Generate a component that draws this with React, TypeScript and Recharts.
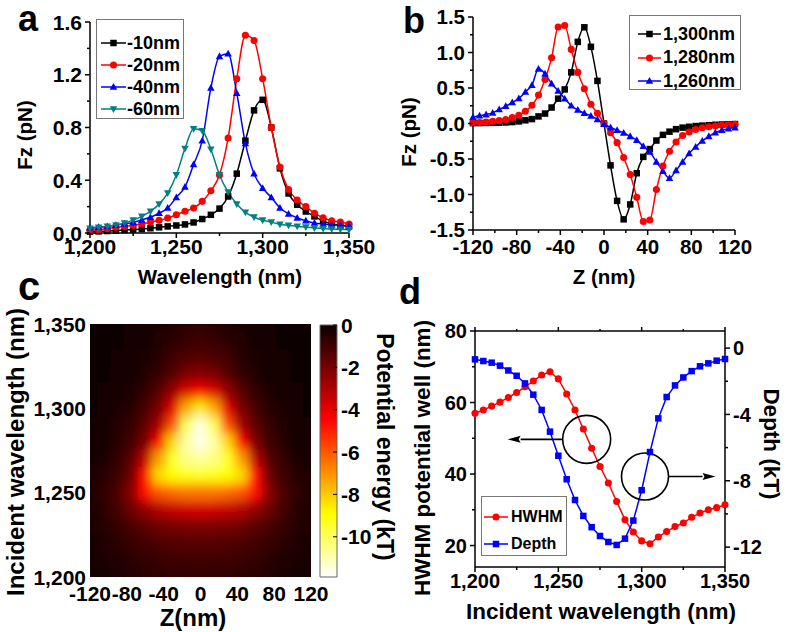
import React from 'react';
import {
  LineChart,
  Line,
  XAxis,
  YAxis,
  Legend,
  ScatterChart,
  Scatter,
  BarChart,
  Bar,
  ReferenceDot,
} from 'recharts';

const FONT = '"Liberation Sans", Arial, Helvetica, sans-serif';

// ---------- panel a: Fz vs wavelength at several z ----------
const wavelengths = [
  1200, 1205, 1210, 1215, 1220, 1225, 1230, 1235, 1240, 1245, 1250, 1255, 1260, 1265, 1270, 1275,
  1280, 1285, 1290, 1295, 1300, 1305, 1310, 1315, 1320, 1325, 1330, 1335, 1340, 1345, 1350,
];
const fzMinus10 = [
  0.01, 0.012, 0.015, 0.018, 0.022, 0.026, 0.03, 0.036, 0.043, 0.05, 0.057, 0.065, 0.08, 0.106, 0.138,
  0.185, 0.277, 0.45, 0.7, 0.93, 1.01, 0.8, 0.49, 0.3, 0.214, 0.163, 0.126, 0.09, 0.07, 0.058, 0.05,
];
const fzMinus20 = [
  0.02, 0.025, 0.033, 0.043, 0.05, 0.058, 0.068, 0.083, 0.096, 0.113, 0.138, 0.165, 0.19, 0.24, 0.32,
  0.44, 0.72, 1.17, 1.5, 1.46, 1.17, 0.8, 0.5, 0.33, 0.25, 0.2, 0.15, 0.115, 0.093, 0.083, 0.068,
];
const fzMinus40 = [
  0.04, 0.045, 0.05, 0.06, 0.07, 0.08, 0.1, 0.12, 0.15, 0.19, 0.27, 0.35, 0.52, 0.7, 1.1, 1.34, 1.36,
  1.06, 0.68, 0.45, 0.34, 0.27, 0.19, 0.145, 0.115, 0.093, 0.076, 0.068, 0.062, 0.058, 0.055,
];
const fzMinus60 = [
  0.035, 0.042, 0.05, 0.06, 0.075, 0.098, 0.126, 0.164, 0.219, 0.302, 0.44, 0.64, 0.79, 0.775, 0.635,
  0.44, 0.31, 0.22, 0.156, 0.12, 0.097, 0.083, 0.065, 0.058, 0.05, 0.045, 0.038, 0.034, 0.03, 0.028,
  0.025,
];

// ---------- panel b: Fz vs z at several wavelengths ----------
const zPositions = [
  -120, -114, -108, -102, -96, -90, -84, -78, -72, -66, -60, -54, -48, -42, -36, -30, -24, -18, -12, -6,
  0, 6, 12, 18, 24, 30, 36, 42, 48, 54, 60, 66, 72, 78, 84, 90, 96, 102, 108, 114, 120,
];
const fz1300 = [
  0.005, 0.006, 0.008, 0.01, 0.012, 0.015, 0.02, 0.03, 0.045, 0.062, 0.1, 0.14, 0.225, 0.35, 0.48, 0.72,
  1.15, 1.355, 1.08, 0.6, 0, -0.59, -1.09, -1.35, -1.14, -0.7, -0.47, -0.36, -0.24, -0.16, -0.115, -0.08,
  -0.058, -0.046, -0.036, -0.03, -0.024, -0.018, -0.014, -0.011, -0.008,
];
const fz1280 = [
  0.01, 0.015, 0.02, 0.03, 0.04, 0.056, 0.085, 0.117, 0.173, 0.258, 0.4, 0.62, 0.925, 1.36, 1.38, 1.044,
  0.72, 0.49, 0.272, 0.145, 0, -0.13, -0.27, -0.48, -0.72, -1.04, -1.38, -1.36, -0.93, -0.6, -0.39,
  -0.26, -0.17, -0.12, -0.085, -0.06, -0.045, -0.035, -0.025, -0.018, -0.012,
];
const fz1260 = [
  0.09, 0.11, 0.126, 0.15, 0.197, 0.244, 0.296, 0.352, 0.446, 0.54, 0.77, 0.7, 0.56, 0.46, 0.35, 0.25,
  0.19, 0.145, 0.108, 0.058, -0.01, -0.057, -0.095, -0.132, -0.18, -0.235, -0.32, -0.4, -0.54, -0.67,
  -0.77, -0.66, -0.54, -0.42, -0.33, -0.245, -0.18, -0.13, -0.095, -0.072, -0.057,
];

// ---------- panel c: potential energy map (kT) ----------
const heatZ = [-120, -105, -90, -75, -60, -45, -30, -15, 0, 15, 30, 45, 60, 75, 90, 105, 120];
const heatWl = [1350, 1340, 1330, 1320, 1310, 1300, 1290, 1280, 1270, 1260, 1250, 1240, 1230, 1220, 1210, 1200];
const potential = [
  [-0.06, -0.08, -0.1, -0.14, -0.2, -0.3, -0.45, -0.6, -0.66, -0.6, -0.45, -0.3, -0.2, -0.14, -0.1, -0.08, -0.06],
  [-0.07, -0.09, -0.12, -0.17, -0.25, -0.4, -0.62, -0.85, -0.92, -0.85, -0.62, -0.4, -0.25, -0.17, -0.12, -0.09, -0.07],
  [-0.08, -0.1, -0.14, -0.2, -0.33, -0.55, -0.9, -1.25, -1.4, -1.25, -0.9, -0.55, -0.33, -0.2, -0.14, -0.1, -0.08],
  [-0.09, -0.12, -0.17, -0.26, -0.45, -0.8, -1.35, -2.0, -2.25, -2.0, -1.35, -0.8, -0.45, -0.26, -0.17, -0.12, -0.09],
  [-0.1, -0.15, -0.22, -0.38, -0.7, -1.35, -2.5, -3.8, -4.3, -3.8, -2.5, -1.35, -0.7, -0.38, -0.22, -0.15, -0.1],
  [-0.12, -0.18, -0.3, -0.55, -1.1, -2.0, -3.9, -7.4, -8.6, -7.4, -3.9, -2.0, -1.1, -0.55, -0.3, -0.18, -0.12],
  [-0.14, -0.22, -0.4, -0.8, -1.5, -2.8, -5.8, -10.0, -11.5, -10.0, -5.8, -2.8, -1.5, -0.8, -0.4, -0.22, -0.14],
  [-0.16, -0.27, -0.5, -1.0, -2.0, -4.4, -8.2, -10.8, -11.7, -10.8, -8.2, -4.4, -2.0, -1.0, -0.5, -0.27, -0.16],
  [-0.2, -0.35, -0.7, -1.4, -3.2, -7.2, -9.4, -10.5, -10.8, -10.5, -9.4, -7.2, -3.2, -1.4, -0.7, -0.35, -0.2],
  [-0.28, -0.5, -0.9, -1.8, -4.6, -8.3, -8.9, -9.1, -9.2, -9.1, -8.9, -8.3, -4.6, -1.8, -0.9, -0.5, -0.28],
  [-0.36, -0.65, -1.2, -2.3, -4.6, -5.9, -6.3, -6.5, -6.5, -6.5, -6.3, -5.9, -4.6, -2.3, -1.2, -0.65, -0.36],
  [-0.35, -0.6, -1.1, -1.8, -2.5, -3.1, -3.4, -3.6, -3.7, -3.6, -3.4, -3.1, -2.5, -1.8, -1.1, -0.6, -0.35],
  [-0.3, -0.5, -0.8, -1.15, -1.5, -1.8, -1.95, -2.05, -2.1, -2.05, -1.95, -1.8, -1.5, -1.15, -0.8, -0.5, -0.3],
  [-0.26, -0.4, -0.6, -0.82, -1.02, -1.2, -1.3, -1.37, -1.4, -1.37, -1.3, -1.2, -1.02, -0.82, -0.6, -0.4, -0.26],
  [-0.22, -0.32, -0.45, -0.6, -0.75, -0.86, -0.93, -0.98, -1.0, -0.98, -0.93, -0.86, -0.75, -0.6, -0.45, -0.32, -0.22],
  [-0.18, -0.26, -0.36, -0.47, -0.57, -0.65, -0.7, -0.73, -0.75, -0.73, -0.7, -0.65, -0.57, -0.47, -0.36, -0.26, -0.18],
];
const colorbarRange = [-11.9, 0];
const colorbarTicks = [0, -2, -4, -6, -8, -10];

// ---------- panel d: HWHM and depth vs wavelength ----------
const hwhm = [
  57.0, 57.9, 59.0, 60.1, 61.4, 62.8, 64.4, 66.0, 67.7, 68.6, 66.6, 62.4, 57.9, 52.6, 47.2, 42.1, 37.5,
  32.3, 27.2, 23.8, 21.3, 20.5, 22.4, 23.9, 25.3, 26.3, 27.9, 29.1, 30.0, 30.6, 31.4,
];
const depth = [
  -0.68, -0.78, -0.88, -1.06, -1.35, -1.67, -2.13, -2.81, -3.73, -5.04, -6.49, -7.91, -9.16, -10.12,
  -10.8, -11.33, -11.69, -11.87, -11.49, -10.4, -8.57, -6.27, -4.24, -2.95, -2.25, -1.77, -1.39, -1.1,
  -0.92, -0.76, -0.66,
];

// ---------- helpers ----------
const AXIS = { stroke: '#000', strokeWidth: 1.5 };

function hotColor(v: number) {
  const t = Math.min(1, Math.max(0, -v / 11.9));
  const r = Math.min(1, 0.04 + (t / 0.375) * 0.96);
  const g = Math.min(1, Math.max(0, (t - 0.375) / 0.375));
  const b = Math.min(1, Math.max(0, (t - 0.75) / 0.25));
  return `rgb(${Math.round(r * 255)},${Math.round(g * 255)},${Math.round(b * 255)})`;
}

type Shape = 'square' | 'circle' | 'up' | 'down';

function Marker({ shape, cx, cy, color, s = 6.5 }: { shape: Shape; cx: number; cy: number; color: string; s?: number }) {
  if (shape === 'square') return <rect x={cx - s / 2} y={cy - s / 2} width={s} height={s} fill={color} />;
  if (shape === 'circle') return <circle cx={cx} cy={cy} r={s / 2 + 0.3} fill={color} />;
  const h = s * 0.55;
  const d = shape === 'up' ? 1 : -1;
  const pts = `${cx},${cy - d * h * 1.1} ${cx - h * 1.05},${cy + d * h * 0.8} ${cx + h * 1.05},${cy + d * h * 0.8}`;
  return <polygon points={pts} fill={color} />;
}

const dotOf = (shape: Shape, color: string) => (p: any) => (
  <Marker key={`d${p.index}`} shape={shape} cx={p.cx} cy={p.cy} color={color} />
);

type TickOpts = {
  side: 'bottom' | 'top' | 'left' | 'right' | 'rightIn';
  majors: number[];
  fmt?: (v: number) => string;
  fontSize?: number;
  gap?: number;
  major?: number;
  minor?: number;
};

function makeTick({ side, majors, fmt, fontSize = 18, gap = 18, major = 5, minor = 3 }: TickOpts) {
  return (props: any) => {
    const { x, y, payload } = props;
    const v = payload.value;
    const isMajor = majors.includes(v);
    const len = isMajor ? major : minor;
    const txt = { fontSize, fontWeight: 'bold', fontFamily: FONT, fill: '#000' } as any;
    let line = null;
    let label = null;
    if (side === 'bottom') {
      line = <line x1={x} x2={x} y1={y} y2={y + len} stroke="#000" strokeWidth={1.5} />;
      if (isMajor && fmt) label = <text x={x} y={y + gap} textAnchor="middle" {...txt}>{fmt(v)}</text>;
    } else if (side === 'top') {
      line = <line x1={x} x2={x} y1={y} y2={y - len} stroke="#000" strokeWidth={1.5} />;
    } else if (side === 'left') {
      line = <line x1={x} x2={x - len} y1={y} y2={y} stroke="#000" strokeWidth={1.5} />;
      if (isMajor && fmt) label = <text x={x - gap} y={y} dy="0.36em" textAnchor="end" {...txt}>{fmt(v)}</text>;
    } else if (side === 'right') {
      line = <line x1={x} x2={x + len} y1={y} y2={y} stroke="#000" strokeWidth={1.5} />;
      if (isMajor && fmt) label = <text x={x + gap} y={y} dy="0.36em" textAnchor="start" {...txt}>{fmt(v)}</text>;
    } else {
      line = <line x1={x} x2={x - len} y1={y} y2={y} stroke="#000" strokeWidth={1} />;
      if (isMajor && fmt) label = <text x={x + gap} y={y} dy="0.36em" textAnchor="start" {...txt}>{fmt(v)}</text>;
    }
    return (
      <g>
        {len > 0 ? line : null}
        {label}
      </g>
    );
  };
}

const comma = (v: number) => v.toLocaleString('en-US');
const oneDec = (v: number) => v.toFixed(1);
const plain = (v: number) => String(v);

type Series = { key: string; name: string; color: string; shape: Shape; values: number[] };

function LegendBox({ items, width, height, padTop, rowH, lineX1, lineX2, textX, fontSize }: any) {
  return (
    <div
      style={{
        position: 'relative',
        width,
        height,
        border: '1px solid #777',
        background: '#fff',
        boxSizing: 'border-box',
      }}
    >
      {items.map((it: Series, i: number) => {
        const cy = padTop + i * rowH;
        return (
          <div key={it.key} style={{ position: 'absolute', left: 0, top: cy - 10, height: 20, width: '100%' }}>
            <svg width={lineX2 + 2} height={20} style={{ position: 'absolute', left: 0, top: 0 }}>
              <line x1={lineX1} x2={lineX2} y1={10} y2={10} stroke={it.color} strokeWidth={1.5} />
              <Marker shape={it.shape} cx={(lineX1 + lineX2) / 2} cy={10} color={it.color} />
            </svg>
            <span
              style={{
                position: 'absolute',
                left: textX,
                top: 10 - fontSize * 0.58,
                fontSize,
                lineHeight: `${fontSize * 1.15}px`,
                fontWeight: 'bold',
                fontFamily: FONT,
                whiteSpace: 'nowrap',
              }}
            >
              {it.name}
            </span>
          </div>
        );
      })}
    </div>
  );
}

// ---------- panel a ----------
const seriesA: Series[] = [
  { key: 'm10', name: '-10nm', color: '#000000', shape: 'square', values: fzMinus10 },
  { key: 'm20', name: '-20nm', color: '#ff0000', shape: 'circle', values: fzMinus20 },
  { key: 'm40', name: '-40nm', color: '#0000ff', shape: 'up', values: fzMinus40 },
  { key: 'm60', name: '-60nm', color: '#008080', shape: 'down', values: fzMinus60 },
];
const dataA = wavelengths.map((wl, i) => {
  const row: any = { wl };
  seriesA.forEach((s) => (row[s.key] = s.values[i]));
  return row;
});

function PanelA() {
  return (
    <LineChart width={390} height={290} data={dataA} margin={{ top: 22, right: 41, left: 0, bottom: 0 }}>
      <XAxis
        type="number"
        dataKey="wl"
        domain={[1200, 1350]}
        ticks={[1200, 1225, 1250, 1275, 1300, 1325, 1350]}
        interval={0}
        height={57}
        tickSize={0}
        tickMargin={0}
        tickLine={false}
        axisLine={AXIS}
        tick={makeTick({ side: 'bottom', majors: [1200, 1250, 1300, 1350], fmt: comma, fontSize: 21, gap: 21 })}
      />
      <YAxis
        type="number"
        domain={[0, 1.6]}
        ticks={[0, 0.2, 0.4, 0.6, 0.8, 1.0, 1.2, 1.4, 1.6]}
        interval={0}
        width={90}
        tickSize={0}
        tickMargin={0}
        tickLine={false}
        axisLine={AXIS}
        tick={makeTick({ side: 'left', majors: [0, 0.4, 0.8, 1.2, 1.6], fmt: oneDec, fontSize: 21, gap: 8 })}
      />
      <Legend
        layout="vertical"
        align="center"
        verticalAlign="middle"
        wrapperStyle={{ left: 96, top: 19, width: 88, height: 100 }}
        content={() => (
          <LegendBox items={seriesA} width={88} height={100} padTop={23} rowH={22} lineX1={4} lineX2={29} textX={30} fontSize={18} />
        )}
      />
      {seriesA.map((s) => (
        <Line
          key={s.key}
          dataKey={s.key}
          type="monotone"
          stroke={s.color}
          strokeWidth={1.5}
          dot={dotOf(s.shape, s.color)}
          activeDot={false}
          isAnimationActive={false}
        />
      ))}
    </LineChart>
  );
}

// ---------- panel b ----------
const seriesB: Series[] = [
  { key: 'w1300', name: '1,300nm', color: '#000000', shape: 'square', values: fz1300 },
  { key: 'w1280', name: '1,280nm', color: '#ff0000', shape: 'circle', values: fz1280 },
  { key: 'w1260', name: '1,260nm', color: '#0000ff', shape: 'up', values: fz1260 },
];
const dataB = zPositions.map((z, i) => {
  const row: any = { z };
  seriesB.forEach((s) => (row[s.key] = s.values[i]));
  return row;
});

function PanelB() {
  return (
    <LineChart width={397} height={290} data={dataB} margin={{ top: 17, right: 52, left: 0, bottom: 0 }}>
      <XAxis
        type="number"
        dataKey="z"
        domain={[-120, 120]}
        ticks={[-120, -100, -80, -60, -40, -20, 0, 20, 40, 60, 80, 100, 120]}
        interval={0}
        height={60}
        tickSize={0}
        tickMargin={0}
        tickLine={false}
        axisLine={AXIS}
        tick={makeTick({ side: 'bottom', majors: [-120, -80, -40, 0, 40, 80, 120], fmt: plain, fontSize: 20.5, gap: 24 })}
      />
      <YAxis
        type="number"
        domain={[-1.5, 1.5]}
        ticks={[-1.5, -1.25, -1, -0.75, -0.5, -0.25, 0, 0.25, 0.5, 0.75, 1, 1.25, 1.5]}
        interval={0}
        width={83}
        tickSize={0}
        tickMargin={0}
        tickLine={false}
        axisLine={AXIS}
        tick={makeTick({ side: 'left', majors: [-1.5, -1, -0.5, 0, 0.5, 1, 1.5], fmt: oneDec, fontSize: 20.5, gap: 8 })}
      />
      <Legend
        layout="vertical"
        align="center"
        verticalAlign="middle"
        wrapperStyle={{ left: 239, top: 15, width: 112, height: 75 }}
        content={() => (
          <LegendBox items={seriesB} width={112} height={75} padTop={18} rowH={23.5} lineX1={8} lineX2={31} textX={33} fontSize={18} />
        )}
      />
      {seriesB.map((s) => (
        <Line
          key={s.key}
          dataKey={s.key}
          type="monotone"
          stroke={s.color}
          strokeWidth={1.5}
          dot={dotOf(s.shape, s.color)}
          activeDot={false}
          isAnimationActive={false}
        />
      ))}
    </LineChart>
  );
}

// ---------- panel c ----------
const heatCells = heatWl.flatMap((wl, i) => heatZ.map((z, j) => ({ z, wl, v: potential[i][j] })));
const CELL_W = 221 / (heatZ.length - 1);
const CELL_H = 253 / (heatWl.length - 1);

function HeatCell(p: any) {
  const v = p.payload ? p.payload.v : p.v;
  return (
    <rect
      x={p.cx - CELL_W / 2 - 0.5}
      y={p.cy - CELL_H / 2 - 0.5}
      width={CELL_W + 1}
      height={CELL_H + 1}
      fill={hotColor(v)}
    />
  );
}

function PanelC() {
  return (
    <ScatterChart width={340} height={332} margin={{ top: 24, right: 29, left: 0, bottom: 0 }}>
      <defs>
        <filter id="heatBlur" filterUnits="userSpaceOnUse" x={90} y={24} width={221} height={253}>
          <feFlood floodColor="#0b0000" result="bg" />
          <feGaussianBlur in="SourceGraphic" stdDeviation="5 6" result="soft" />
          <feMerge>
            <feMergeNode in="bg" />
            <feMergeNode in="soft" />
          </feMerge>
        </filter>
      </defs>
      <XAxis
        type="number"
        dataKey="z"
        domain={[-120, 120]}
        ticks={[-120, -80, -40, 0, 40, 80, 120]}
        interval={0}
        height={55}
        tickSize={0}
        tickMargin={0}
        tickLine={false}
        axisLine={false}
        tick={makeTick({ side: 'bottom', majors: [-120, -80, -40, 0, 40, 80, 120], fmt: plain, fontSize: 21, gap: 24, major: 0, minor: 0 })}
      />
      <YAxis
        type="number"
        dataKey="wl"
        domain={[1200, 1350]}
        ticks={[1200, 1250, 1300, 1350]}
        interval={0}
        width={90}
        tickSize={0}
        tickMargin={0}
        tickLine={false}
        axisLine={false}
        tick={makeTick({ side: 'left', majors: [1200, 1250, 1300, 1350], fmt: comma, fontSize: 21, gap: 4, major: 0, minor: 0 })}
      />
      <Scatter data={heatCells} shape={HeatCell} className="heat-layer" isAnimationActive={false} />
    </ScatterChart>
  );
}

const colorbarData = [{ name: 'U', range: colorbarRange }];

function Colorbar() {
  return (
    <BarChart
      width={90}
      height={300}
      data={colorbarData}
      margin={{ top: 25, right: 0, left: 20, bottom: 23 }}
      barCategoryGap={0}
      barGap={0}
    >
      <defs>
        <linearGradient id="hotGrad" x1="0" y1="0" x2="0" y2="1">
          <stop offset="0" stopColor="rgb(10,0,0)" />
          <stop offset="0.375" stopColor="#ff0000" />
          <stop offset="0.75" stopColor="#ffff00" />
          <stop offset="1" stopColor="#ffffff" />
        </linearGradient>
      </defs>
      <XAxis dataKey="name" hide />
      <YAxis
        orientation="right"
        type="number"
        domain={colorbarRange}
        ticks={colorbarTicks}
        interval={0}
        width={53}
        tickSize={0}
        tickMargin={0}
        tickLine={false}
        axisLine={false}
        tick={makeTick({ side: 'rightIn', majors: colorbarTicks, fmt: plain, fontSize: 21, gap: 4, major: 4, minor: 4 })}
      />
      <Bar dataKey="range" fill="url(#hotGrad)" stroke="#666" strokeWidth={1} isAnimationActive={false} />
    </BarChart>
  );
}

// ---------- panel d ----------
const dataD = wavelengths.map((wl, i) => ({ wl, hwhm: hwhm[i], depth: depth[i] }));
const seriesD: Series[] = [
  { key: 'hwhm', name: 'HWHM', color: '#ff0000', shape: 'circle', values: hwhm },
  { key: 'depth', name: 'Depth', color: '#0000ff', shape: 'square', values: depth },
];

const circleArrow = (dir: number, r: number, len: number) => (p: any) => {
  const x0 = p.cx + dir * r;
  const tip = p.cx + dir * (r + len);
  const back = tip - dir * 13;
  return (
    <g>
      <circle cx={p.cx} cy={p.cy} r={r} fill="none" stroke="#000" strokeWidth={1.6} />
      <line x1={x0} x2={back} y1={p.cy} y2={p.cy} stroke="#000" strokeWidth={1.6} />
      <polygon points={`${tip},${p.cy} ${back},${p.cy - 3.5} ${back + dir * 2},${p.cy} ${back},${p.cy + 3.5}`} fill="#000" />
    </g>
  );
};

function PanelD() {
  return (
    <LineChart width={397} height={332} data={dataD} margin={{ top: 30, right: 0, left: 0, bottom: 0 }}>
      <XAxis
        type="number"
        dataKey="wl"
        domain={[1200, 1350]}
        ticks={[1200, 1225, 1250, 1275, 1300, 1325, 1350]}
        interval={0}
        height={65}
        tickSize={0}
        tickMargin={0}
        tickLine={false}
        axisLine={AXIS}
        tick={makeTick({ side: 'bottom', majors: [1200, 1250, 1300, 1350], fmt: comma, fontSize: 20, gap: 21 })}
      />
      <XAxis
        xAxisId="top"
        orientation="top"
        type="number"
        dataKey="wl"
        domain={[1200, 1350]}
        ticks={[1200, 1225, 1250, 1275, 1300, 1325, 1350]}
        interval={0}
        height={1}
        tickSize={0}
        tickMargin={0}
        tickLine={false}
        axisLine={AXIS}
        tick={makeTick({ side: 'top', majors: [1200, 1250, 1300, 1350], major: 4, minor: 2 })}
      />
      <YAxis
        yAxisId="left"
        type="number"
        domain={[14, 80]}
        ticks={[20, 30, 40, 50, 60, 70, 80]}
        interval={0}
        width={85}
        tickSize={0}
        tickMargin={0}
        tickLine={false}
        axisLine={AXIS}
        tick={makeTick({ side: 'left', majors: [20, 40, 60, 80], fmt: plain, fontSize: 20, gap: 8 })}
      />
      <YAxis
        yAxisId="right"
        orientation="right"
        type="number"
        domain={[-13.2, 1.03]}
        ticks={[-12, -10, -8, -6, -4, -2, 0]}
        interval={0}
        width={62}
        tickSize={0}
        tickMargin={0}
        tickLine={false}
        axisLine={AXIS}
        tick={makeTick({ side: 'right', majors: [-12, -8, -4, 0], fmt: plain, fontSize: 20, gap: 8 })}
      />
      <Legend
        layout="vertical"
        align="center"
        verticalAlign="middle"
        wrapperStyle={{ left: 91, top: 196, width: 86, height: 60 }}
        content={() => (
          <LegendBox items={seriesD} width={86} height={60} padTop={20} rowH={27} lineX1={2} lineX2={26} textX={29} fontSize={16} />
        )}
      />
      <Line
        yAxisId="left"
        dataKey="hwhm"
        type="linear"
        stroke="#ff0000"
        strokeWidth={1.5}
        dot={dotOf('circle', '#ff0000')}
        activeDot={false}
        isAnimationActive={false}
      />
      <Line
        yAxisId="right"
        dataKey="depth"
        type="linear"
        stroke="#0000ff"
        strokeWidth={1.5}
        dot={dotOf('square', '#0000ff')}
        activeDot={false}
        isAnimationActive={false}
      />
      <ReferenceDot yAxisId="left" x={1267} y={49.7} shape={circleArrow(-1, 24, 55)} />
      <ReferenceDot yAxisId="left" x={1302} y={39.3} shape={circleArrow(1, 23.5, 47)} />
    </LineChart>
  );
}

// ---------- titles & panel letters ----------
function Titles() {
  const t = { fontFamily: FONT, fontWeight: 'bold', fill: '#000' } as any;
  return (
    <svg width={787} height={632} style={{ position: 'absolute', left: 0, top: 0, pointerEvents: 'none' }}>
      <text x={18} y={31} fontSize={36} {...t}>a</text>
      <text x={403} y={33} fontSize={36} {...t}>b</text>
      <text x={18} y={300} fontSize={40} {...t}>c</text>
      <text x={399} y={304} fontSize={36} {...t}>d</text>

      <text x={220} y={277} dy="0.35em" textAnchor="middle" fontSize={20.5} {...t}>Wavelength (nm)</text>
      <text transform="translate(25,135) rotate(-90)" dy="0.35em" textAnchor="middle" fontSize={20.5} {...t}>Fz (pN)</text>

      <text x={604} y={277} dy="0.35em" textAnchor="middle" fontSize={20.5} {...t}>Z (nm)</text>
      <text transform="translate(409,132) rotate(-90)" dy="0.35em" textAnchor="middle" fontSize={20.5} {...t}>Fz (pN)</text>

      <text x={193} y={618} dy="0.35em" textAnchor="middle" fontSize={24} {...t}>Z(nm)</text>
      <text transform="translate(16,452) rotate(-90)" dy="0.35em" textAnchor="middle" fontSize={24} {...t}>Incident wavelength (nm)</text>
      <text transform="translate(385,447) rotate(90)" dy="0.35em" textAnchor="middle" fontSize={23} {...t}>Potential energy (kT)</text>

      <text x={601} y={611} dy="0.35em" textAnchor="middle" fontSize={22.5} {...t}>Incident wavelength (nm)</text>
      <text transform="translate(422,458) rotate(-90)" dy="0.35em" textAnchor="middle" fontSize={22.5} {...t}>HWHM potential well (nm)</text>
      <text transform="translate(772,444) rotate(90)" dy="0.35em" textAnchor="middle" fontSize={22.5} {...t}>Depth (kT)</text>
    </svg>
  );
}

export default function App() {
  return (
    <div style={{ position: 'absolute', left: 0, top: 0, width: 787, height: 632, background: '#fff', overflow: 'hidden' }}>
      <style>{'.heat-layer{filter:url(#heatBlur);}'}</style>
      <div style={{ position: 'absolute', left: 0, top: 0 }}>
        <PanelA />
      </div>
      <div style={{ position: 'absolute', left: 390, top: 0 }}>
        <PanelB />
      </div>
      <div style={{ position: 'absolute', left: 0, top: 300 }}>
        <PanelC />
      </div>
      <div style={{ position: 'absolute', left: 300, top: 300 }}>
        <Colorbar />
      </div>
      <div style={{ position: 'absolute', left: 390, top: 300 }}>
        <PanelD />
      </div>
      <Titles />
    </div>
  );
}
